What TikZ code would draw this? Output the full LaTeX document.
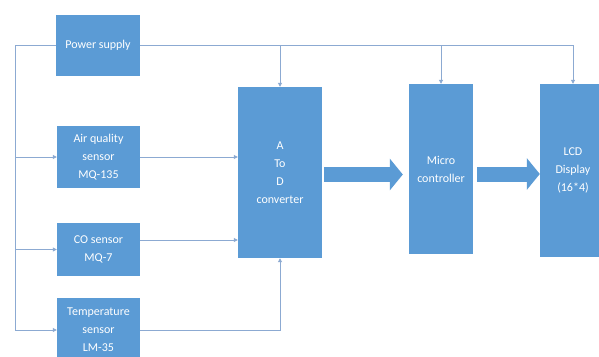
\documentclass[tikz,border=0pt]{standalone}
\usepackage{fontspec}
\setmainfont{Carlito}
\usetikzlibrary{arrows.meta,calc}
\definecolor{boxblue}{RGB}{91,155,213}
\definecolor{linecol}{RGB}{140,170,210}
\tikzset{
  blk/.style={draw=none, fill=boxblue, text=white, align=center, inner sep=0pt,
    font=\fontsize{12}{18}\selectfont},
  conn/.style={draw=linecol, line width=0.8pt},
  connarr/.style={conn, -{Triangle[length=4pt,width=4pt]}},
  bigarrow/.style={draw=boxblue, line width=15pt, -{Triangle[length=13pt,width=31pt]}}
}
\begin{document}
\begin{tikzpicture}[x=1pt,y=-1pt]
\useasboundingbox (0,0) rectangle (599,356);
\fill[white] (0,0) rectangle (599,356);
% blocks
\node[blk, minimum width=84pt, minimum height=61pt] (power) at (98,45.5) {Power supply};
\node[blk, minimum width=83pt, minimum height=62pt] (air) at (98.5,157) {Air quality\\sensor\\MQ-135};
\node[blk, minimum width=83pt, minimum height=53pt] (co) at (98.5,249.5) {CO sensor\\MQ-7};
\node[blk, minimum width=83pt, minimum height=64pt] (temp) at (98.5,330) {Temperature\\sensor\\LM-35};
\node[blk, minimum width=84pt, minimum height=171pt] (adc) at (280,172.5) {A\\To\\D\\converter};
\node[blk, minimum width=64pt, minimum height=170pt] (micro) at (441,169) {Micro\\controller};
\node[blk, minimum width=66pt, minimum height=173pt] (lcd) at (573,170.5) {LCD\\Display\\(16*4)};
% power distribution
\coordinate (lt) at (15,330);
\draw[connarr] (power.west) -| (lt) -- (temp.west);
\draw[connarr] (air.west -| lt) -- (air.west);
\draw[connarr] (co.west -| lt) -- (co.west);
\draw[connarr] (power.east) -| (lcd.north);
\draw[connarr] (adc.north |- power.east) -- (adc.north);
\draw[connarr] (micro.north |- power.east) -- (micro.north);
% sensors to ADC
\draw[connarr] (air.east) -- (adc.west |- air.east);
\draw[connarr] (co.east |- 0,240) -- (adc.west |- 0,240);
\draw[connarr] (temp.east) -| (adc.south);
% thick arrows
\draw[bigarrow, shorten <=2pt, shorten >=6pt] (adc.east |- 0,174.5) -- (micro.west |- 0,174.5);
\draw[bigarrow, shorten <=4pt] (micro.east |- 0,174) -- (lcd.west |- 0,174);
\end{tikzpicture}
\end{document}
